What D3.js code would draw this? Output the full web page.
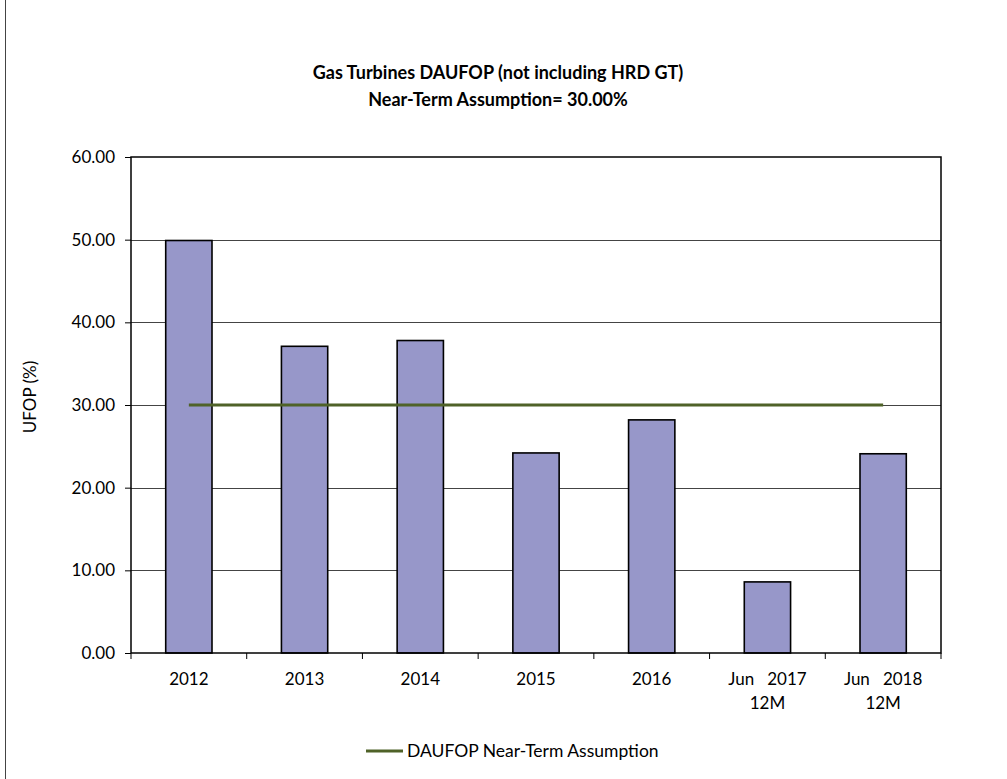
<!DOCTYPE html>
<html>
<head>
<meta charset="utf-8">
<script src="https://cdn.jsdelivr.net/npm/d3@7"></script>
<style>
  html, body { margin: 0; padding: 0; background: #fff; }
  svg { display: block; }
  text { font-family: Lato, "Open Sans", sans-serif; fill: #000; }
</style>
</head>
<body>
<div id="chart"></div>
<script>
// Categories (two-line labels) and values
const categories = ["2012", "2013", "2014", "2015", "2016", "Jun 2017 12M", "Jun 2018 12M"];
const categoryLines = [["2012"], ["2013"], ["2014"], ["2015"], ["2016"], ["Jun   2017", "12M"], ["Jun   2018", "12M"]];
const ufopValues = [49.9, 37.1, 37.8, 24.2, 28.2, 8.6, 24.1];
const assumptionValues = [30, 30, 30, 30, 30, 30, 30];
const yTicks = [0, 10, 20, 30, 40, 50, 60];
const titleLines = ["Gas Turbines DAUFOP (not including HRD GT)", "Near-Term Assumption= 30.00%"];
const yAxisTitle = "UFOP (%)";
const legendLabel = "DAUFOP Near-Term Assumption";

const W = 1007, H = 779;
const plot = { left: 131, right: 941, top: 157, bottom: 653 };

const svg = d3.select("#chart").append("svg").attr("width", W).attr("height", H);

// Outer left border
svg.append("line").attr("x1", 5.5).attr("x2", 5.5).attr("y1", 0).attr("y2", H)
  .attr("stroke", "#444").attr("stroke-width", 1);

const x = d3.scaleBand().domain(categories).range([plot.left, plot.right]).paddingInner(0).paddingOuter(0);
const y = d3.scaleLinear().domain([0, 60]).range([plot.bottom, plot.top]);

// Gridlines
svg.append("g").selectAll("line").data(yTicks.filter(d => d > 0 && d < 60)).join("line")
  .attr("x1", plot.left).attr("x2", plot.right)
  .attr("y1", d => Math.round(y(d)) + 0.5).attr("y2", d => Math.round(y(d)) + 0.5)
  .attr("stroke", "#444").attr("stroke-width", 1);

// Bars
const barW = x.bandwidth() * 0.4;
svg.append("g").selectAll("rect").data(ufopValues).join("rect")
  .attr("x", (d, i) => x(categories[i]) + (x.bandwidth() - barW) / 2)
  .attr("width", barW)
  .attr("y", d => y(d))
  .attr("height", d => y(0) - y(d))
  .attr("fill", "#9797C9")
  .attr("stroke", "#000").attr("stroke-width", 1.6);

// Assumption line
const line = d3.line()
  .x((d, i) => x(categories[i]) + x.bandwidth() / 2)
  .y(d => y(d));
svg.append("path").datum(assumptionValues)
  .attr("d", line).attr("fill", "none")
  .attr("stroke", "#4F6228").attr("stroke-width", 3);

// Plot frame
svg.append("rect").attr("x", plot.left).attr("y", plot.top)
  .attr("width", plot.right - plot.left).attr("height", plot.bottom - plot.top)
  .attr("fill", "none").attr("stroke", "#000").attr("stroke-width", 1.5);

// Y axis
const yAxis = d3.axisLeft(y).tickValues(yTicks).tickFormat(d3.format(".2f")).tickSize(6).tickPadding(10);
const gy = svg.append("g").attr("transform", `translate(${plot.left},0)`).call(yAxis);
gy.select(".domain").remove();
gy.selectAll(".tick line").attr("stroke", "#000");
gy.selectAll(".tick text").attr("font-size", 17).attr("font-family", "Lato, sans-serif").attr("fill", "#000");

// X axis: ticks at category boundaries
const boundaries = categories.map(c => x(c)).concat([plot.right]);
svg.append("g").selectAll("line").data(boundaries).join("line")
  .attr("x1", d => d).attr("x2", d => d)
  .attr("y1", plot.bottom).attr("y2", plot.bottom + 6)
  .attr("stroke", "#000").attr("stroke-width", 1);

const xl = svg.append("g").selectAll("text").data(categories).join("text")
  .attr("x", c => x(c) + x.bandwidth() / 2)
  .attr("y", 685)
  .attr("text-anchor", "middle")
  .attr("font-size", 17);
xl.each(function (c, i) {
  const t = d3.select(this);
  categoryLines[i].forEach((s, k) => {
    t.append("tspan").attr("x", x(c) + x.bandwidth() / 2).attr("dy", k === 0 ? 0 : 24)
      .attr("xml:space", "preserve").style("white-space", "pre").text(s);
  });
});

// Title
svg.append("g").selectAll("text").data(titleLines).join("text")
  .attr("x", 498).attr("y", (d, i) => 79 + i * 27)
  .attr("text-anchor", "middle").attr("font-weight", "bold").attr("font-size", 18)
  .text(d => d);

// Y axis title
svg.append("text").attr("transform", "translate(36,397) rotate(-90)")
  .attr("text-anchor", "middle").attr("font-size", 17).text(yAxisTitle);

// Legend
svg.append("line").attr("x1", 366).attr("x2", 403).attr("y1", 751).attr("y2", 751)
  .attr("stroke", "#4F6228").attr("stroke-width", 3);
svg.append("text").attr("x", 407).attr("y", 757).attr("font-size", 17.5).text(legendLabel);
</script>
</body>
</html>
